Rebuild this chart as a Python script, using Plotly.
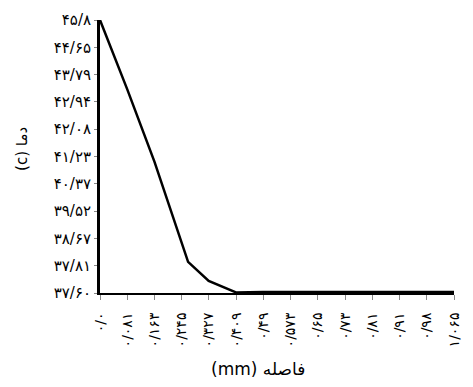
import plotly.graph_objects as go

# Data (distance in mm, temperature in C)
distance = [0.0, 0.082, 0.164, 0.265, 0.327, 0.409, 0.49, 0.573, 0.65, 0.73, 0.81, 0.91, 0.98, 1.065]
temperature = [45.8, 43.55, 41.2, 37.96, 37.34, 36.97, 36.985, 36.985, 36.985, 36.985, 36.985, 36.985, 36.985, 36.985]

x_tick_text = ["۰/۰", "۰/۰۸۱", "۰/۱۶۳", "۰/۲۴۵", "۰/۳۲۷", "۰/۴۰۹", "۰/۴۹",
               "۰/۵۷۳", "۰/۶۵", "۰/۷۳", "۰/۸۱", "۰/۹۱", "۰/۹۸", "۱/۰۶۵"]
y_tick_text = ["۳۷/۶۰", "۳۷/۸۱", "۳۸/۶۷", "۳۹/۵۲", "۴۰/۳۷", "۴۱/۲۳",
               "۴۲/۰۸", "۴۲/۹۴", "۴۳/۷۹", "۴۴/۶۵", "۴۵/۸"]

x_max = 1.065
y_min, y_max = 36.95, 45.8
x_tick_pos = [i * x_max / (len(x_tick_text) - 1) for i in range(len(x_tick_text))]
y_tick_pos = [y_min + i * (y_max - y_min) / (len(y_tick_text) - 1) for i in range(len(y_tick_text))]

FONT = "DejaVu Sans"

fig = go.Figure()
fig.add_trace(go.Scatter(
    x=distance, y=temperature, mode="lines",
    line=dict(color="black", width=2.5),
    cliponaxis=False, showlegend=False,
))

fig.update_layout(
    width=473, height=387,
    margin=dict(l=100, r=11, t=18, b=94),
    paper_bgcolor="white", plot_bgcolor="white",
    font=dict(family=FONT, color="black", size=14),
)
fig.update_xaxes(
    range=[0, x_max], tickmode="array", tickvals=x_tick_pos, ticktext=x_tick_text,
    tickangle=-90, showgrid=False, zeroline=False,
    showline=True, linecolor="black", linewidth=2,
    ticks="outside", ticklen=5, tickcolor="#888888", tickwidth=1,
    ticklabelstandoff=7,
    tickfont=dict(family=FONT, size=14),
)
fig.update_yaxes(
    range=[y_min, y_max], tickmode="array", tickvals=y_tick_pos, ticktext=y_tick_text,
    showgrid=False, zeroline=False,
    showline=True, linecolor="black", linewidth=3,
    ticks="outside", ticklen=3, tickcolor="#888888", tickwidth=1,
    tickfont=dict(family=FONT, size=15),
)

fig.add_annotation(
    text="(c) دما", xref="paper", yref="paper", x=-0.221, y=0.527,
    textangle=-90, showarrow=False, font=dict(family=FONT, size=15),
    xanchor="center", yanchor="middle",
)
fig.add_annotation(
    text="(mm) فاصله", xref="paper", yref="paper", x=0.4475, y=-0.28,
    showarrow=False, font=dict(family=FONT, size=17),
    xanchor="center", yanchor="middle",
)

fig.write_html("out.html")
